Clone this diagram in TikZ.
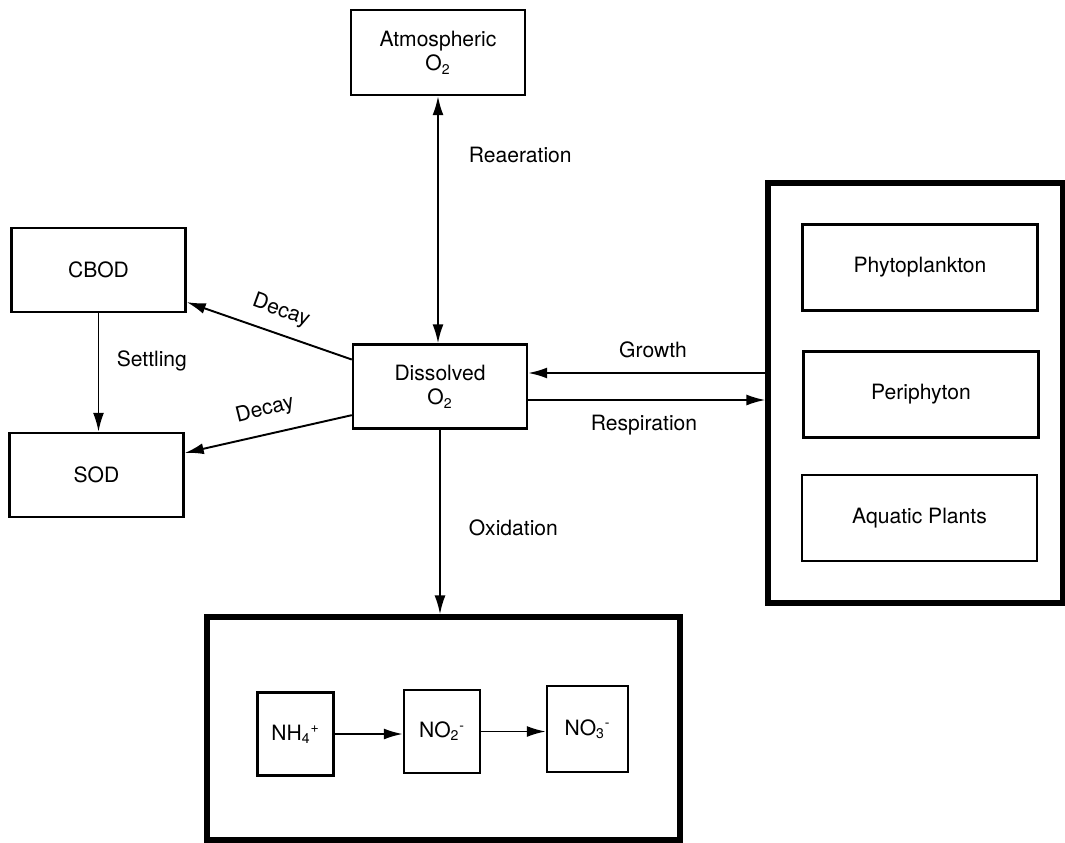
\documentclass[tikz,border=0pt]{standalone}
\usepackage{fontspec}
\setmainfont{TeX Gyre Heros}
\usetikzlibrary{arrows.meta,calc}

\begin{document}
\begin{tikzpicture}[
    every node/.append style={font=\fontsize{12}{14}\selectfont},
    box/.style={draw, line width=1.4pt, minimum width=3.48cm, minimum height=1.68cm, align=center},
    algbox/.style={box, minimum width=4.70cm, minimum height=1.72cm},
    chem/.style={draw, line width=1.4pt, minimum width=1.52cm, minimum height=1.66cm},
    holder/.style={draw, line width=3pt},
    >={Latex[length=3.8mm,width=2.2mm]}, line width=1.1pt]
    \useasboundingbox (0,0) rectangle (21.3,-16.86);

    % oxygen pools
    \node[box, minimum height=1.70cm] (atmo) at (8.76,-1.05) {Atmospheric\\O\textsubscript{2}};
    \node[box] (dissolved) at (8.80,-7.73) {Dissolved\\O\textsubscript{2}};
    \node[box] (cbod) at (1.97,-5.40) {CBOD};
    \node[box] (sod) at (1.93,-9.50) {SOD};

    % plants
    \node[holder, minimum width=5.90cm, minimum height=8.40cm] (algae) at (18.31,-7.86) {};
    \node[algbox] (phyto) at (18.40,-5.35) {Phytoplankton};
    \node[algbox] (peri) at (18.42,-7.89) {Periphyton};
    \node[algbox] (aquatic) at (18.39,-10.36) {Aquatic Plants};

    % nitrogen
    \node[holder, minimum width=9.46cm, minimum height=4.46cm] (nitro) at (8.87,-14.57) {};
    \node[chem] (nh4) at (5.91,-14.68) {NH\textsubscript{4}\textsuperscript{+}};
    \node[chem] (no2) at (8.84,-14.63) {NO\textsubscript{2}\textsuperscript{-}};
    \node[chem, minimum width=1.62cm, minimum height=1.72cm] (no3) at (11.75,-14.58) {NO\textsubscript{3}\textsuperscript{-}};

    \coordinate (growth_in) at ($(algae.west)+(0,0.40)$);
    \coordinate (resp_out) at ($(algae.west)+(0,-0.14)$);

    \draw[<->] (atmo.south) -- (atmo.south |- dissolved.north);
    \draw[->] (dissolved.163) -- (cbod.-20);
    \draw[->] (dissolved.198) -- (sod.14);
    \draw[->] (cbod.south) -- (cbod.south |- sod.north);
    \draw[->] (growth_in) -- (growth_in -| dissolved.east);
    \draw[->] (resp_out -| dissolved.east) -- (resp_out);
    \draw[->] (dissolved.south) -- (dissolved.south |- nitro.north);
    \draw[->] (nh4.east) -- (nh4.east -| no2.west);
    \draw[->] (no2.east) -- (no2.east -| no3.west);

    % labels
    \node[anchor=west] (reaer_lbl) at (9.24,-3.10) {Reaeration};
    \node[rotate=-20, inner sep=1pt] (decay_up_lbl) at (5.62,-6.22) {Decay};
    \node[rotate=14, inner sep=1pt] (decay_down_lbl) at (5.30,-8.20) {Decay};
    \node[anchor=west] (settle_lbl) at (2.20,-7.22) {Settling};
    \node (growth_lbl) at (13.06,-7.00) {Growth};
    \node (resp_lbl) at (12.88,-8.50) {Respiration};
    \node[anchor=west] (oxid_lbl) at (9.24,-10.56) {Oxidation};
\end{tikzpicture}
\end{document}
